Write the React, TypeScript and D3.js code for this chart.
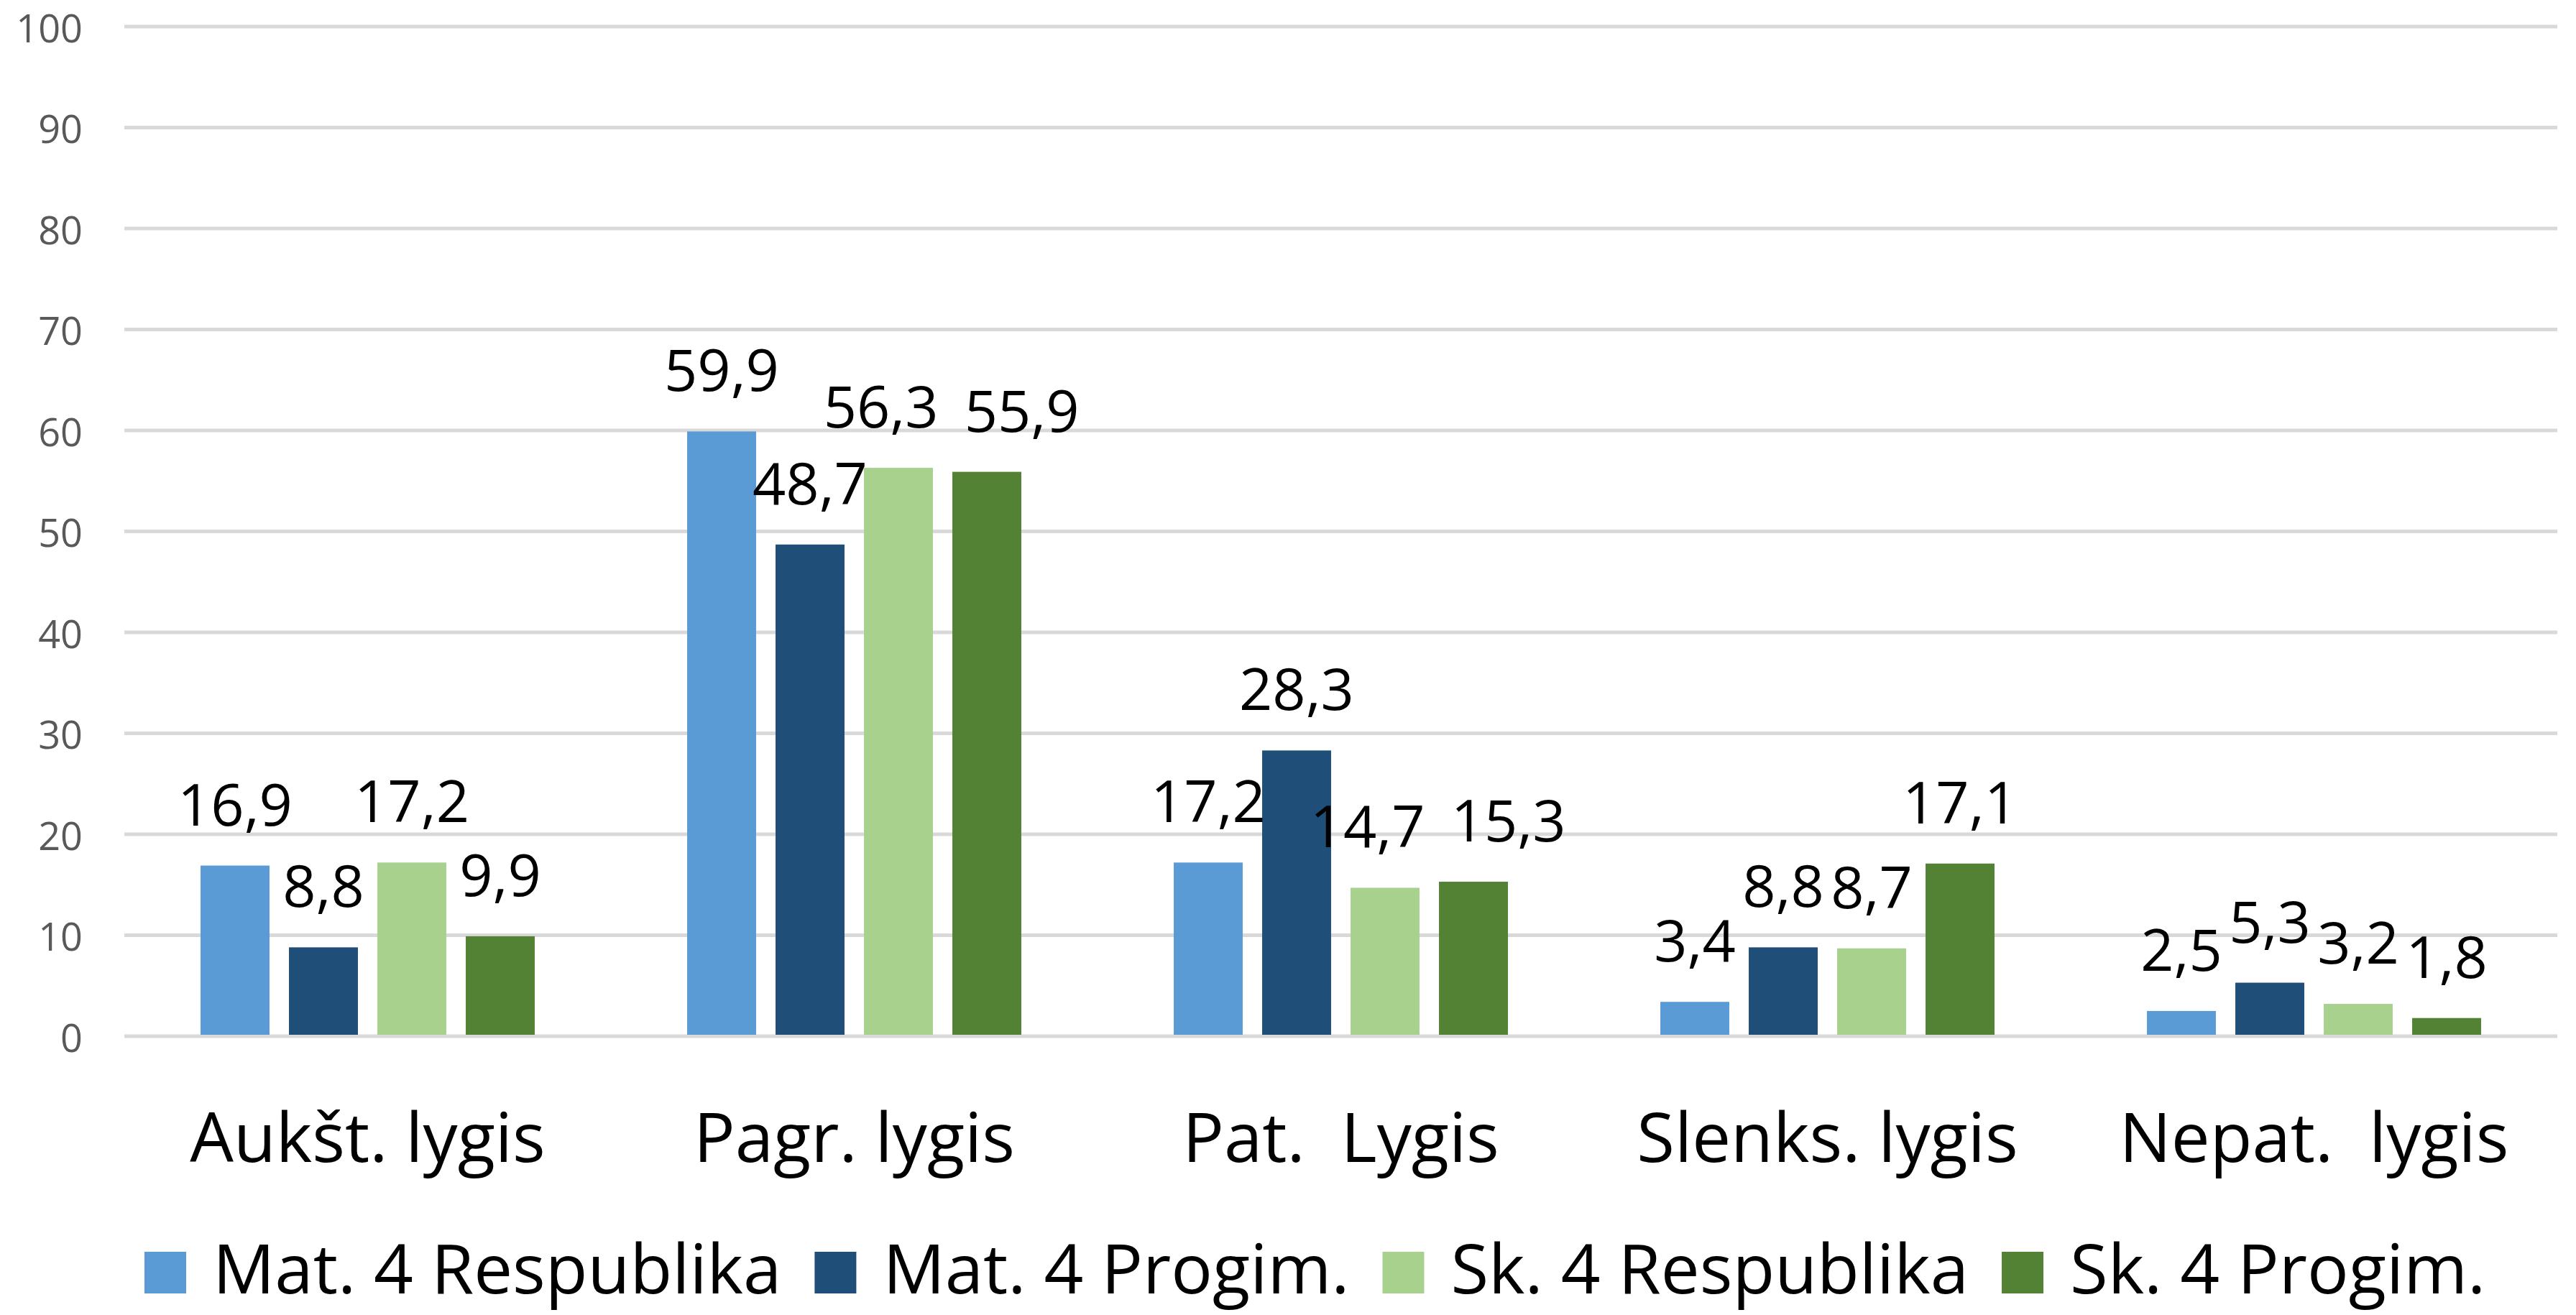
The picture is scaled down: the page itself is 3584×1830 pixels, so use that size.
import React, { useRef, useEffect } from "react";
import * as d3 from "d3";

const categories = ["Aukšt. lygis", "Pagr. lygis", "Pat.  Lygis", "Slenks. lygis", "Nepat.  lygis"];
const seriesNames = ["Mat. 4 Respublika", "Mat. 4 Progim.", "Sk. 4 Respublika", "Sk. 4 Progim."];
const seriesColors = ["#5B9BD5", "#1F4E79", "#A9D18E", "#548235"];
const matRespublika = [16.9, 59.9, 17.2, 3.4, 2.5];
const matProgim = [8.8, 48.7, 28.3, 8.8, 5.3];
const skRespublika = [17.2, 56.3, 14.7, 8.7, 3.2];
const skProgim = [9.9, 55.9, 15.3, 17.1, 1.8];
const yTicks = [0, 10, 20, 30, 40, 50, 60, 70, 80, 90, 100];

const seriesValues = [matRespublika, matProgim, skRespublika, skProgim];

const width = 3584;
const height = 1830;
const plot = { left: 173, right: 3558, top: 37, bottom: 1442 };
const font = "'Open Sans', 'DejaVu Sans', sans-serif";
const labelSize = 81;

const fmt = (v: number) => d3.format(".1f")(v).replace(".", ",");

const App: React.FC = () => {
  const svgRef = useRef<SVGSVGElement | null>(null);

  useEffect(() => {
    document.body.style.margin = "0";
    if (!svgRef.current) return;

    const svg = d3.select(svgRef.current);
    svg.selectAll("*").remove();

    const x0 = d3.scaleBand<string>().domain(categories).range([plot.left, plot.right]);
    const x1 = d3
      .scaleBand<number>()
      .domain(d3.range(seriesNames.length))
      .range([0, x0.bandwidth()])
      .paddingInner(0.22)
      .paddingOuter(0.862);
    const y = d3.scaleLinear().domain([0, 100]).range([plot.bottom, plot.top]);

    // gridlines
    svg
      .append("g")
      .selectAll("line")
      .data(yTicks)
      .enter()
      .append("line")
      .attr("x1", plot.left)
      .attr("x2", plot.right)
      .attr("y1", (d) => y(d))
      .attr("y2", (d) => y(d))
      .attr("stroke", "#d9d9d9")
      .attr("stroke-width", 5);

    // y tick labels
    svg
      .append("g")
      .selectAll("text")
      .data(yTicks)
      .enter()
      .append("text")
      .attr("x", 115)
      .attr("y", (d) => y(d))
      .attr("dy", "0.4em")
      .attr("text-anchor", "end")
      .attr("font-family", font)
      .attr("font-size", 54)
      .attr("fill", "#595959")
      .text((d) => d);

    // bars
    const bars = seriesValues.flatMap((vals, s) =>
      vals.map((v, c) => ({
        s,
        c,
        v,
        cx: (x0(categories[c]) ?? 0) + (x1(s) ?? 0) + x1.bandwidth() / 2,
        ly: y(v) - 56,
        w: 0,
      }))
    );

    const g = svg.append("g");
    g.selectAll("rect")
      .data(bars)
      .enter()
      .append("rect")
      .attr("x", (d) => (x0(categories[d.c]) ?? 0) + (x1(d.s) ?? 0))
      .attr("width", x1.bandwidth())
      .attr("y", (d) => y(d.v))
      .attr("height", (d) => y(0) - y(d.v) - 2)
      .attr("fill", (d) => seriesColors[d.s]);

    // data labels
    const labels = g
      .selectAll("text.lbl")
      .data(bars)
      .enter()
      .append("text")
      .attr("class", "lbl")
      .attr("x", (d) => d.cx)
      .attr("y", (d) => d.ly)
      .attr("text-anchor", "middle")
      .attr("font-family", font)
      .attr("font-size", labelSize)
      .attr("fill", "#000")
      .text((d) => fmt(d.v));

    labels.each(function (d) {
      d.w = (this as SVGTextElement).getComputedTextLength();
    });

    // nudge neighbouring labels apart where they collide
    const capH = labelSize * 0.72;
    categories.forEach((_, c) => {
      const grp = bars.filter((b) => b.c === c).sort((a, b) => a.s - b.s);
      for (let i = 1; i < grp.length; i++) {
        const a = grp[i - 1];
        const b = grp[i];
        const vOverlap = Math.abs(a.ly - b.ly) < capH;
        const need = (a.w + b.w) / 2 + 36;
        const dist = b.cx - a.cx;
        if (vOverlap && dist < need - 36) {
          const shift = need - dist;
          a.cx -= shift / 3;
          b.cx += (shift * 2) / 3;
        }
      }
    });
    labels.attr("x", (d) => d.cx);

    // category labels
    svg
      .append("g")
      .selectAll("text")
      .data(categories)
      .enter()
      .append("text")
      .attr("x", (d) => (x0(d) ?? 0) + x0.bandwidth() / 2)
      .attr("y", 1617)
      .attr("text-anchor", "middle")
      .attr("font-family", font)
      .attr("font-size", 96)
      .attr("fill", "#000")
      .style("white-space", "pre")
      .text((d) => d);

    // legend
    const legend = svg.append("g");
    const sq = 58;
    const gapText = 37;
    const gapItem = 46;
    let cx = 201;
    seriesNames.forEach((name, i) => {
      legend
        .append("rect")
        .attr("x", cx)
        .attr("y", 1742)
        .attr("width", sq)
        .attr("height", sq)
        .attr("fill", seriesColors[i]);
      const t = legend
        .append("text")
        .attr("x", cx + sq + gapText)
        .attr("y", 1800)
        .attr("font-family", font)
        .attr("font-size", 96)
        .attr("fill", "#000")
        .text(name);
      const w = (t.node() as SVGTextElement).getComputedTextLength();
      cx += sq + gapText + w + gapItem;
    });
  }, []);

  return (
    <div>
      <svg ref={svgRef} width={width} height={height} style={{ display: "block", background: "#fff" }} />
    </div>
  );
};

export default App;
